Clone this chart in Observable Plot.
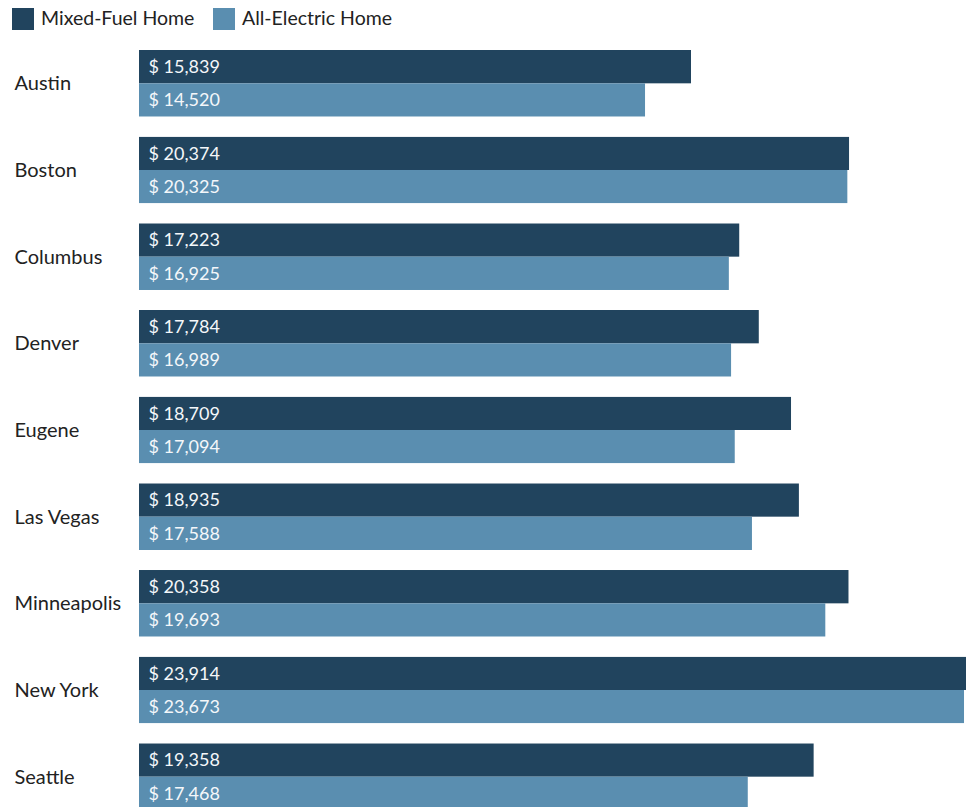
<!DOCTYPE html>
<html>
<head>
<meta charset="utf-8">
<script src="https://cdn.jsdelivr.net/npm/d3@7"></script>
<script src="https://cdn.jsdelivr.net/npm/@observablehq/plot@0.6"></script>
<style>
  html, body { margin: 0; padding: 0; background: #fff; overflow: hidden; }
  body { width: 966px; font-family: Lato, "Noto Sans", sans-serif; }
  #legend { height: 40px; position: relative; font-size: 19.5px; color: #222; }
  .sw { position: absolute; top: 8px; width: 22px; height: 22px; }
  .lt { position: absolute; top: 6px; line-height: 24px; white-space: nowrap; }
  #chart svg { display: block; overflow: hidden; }
</style>
</head>
<body>
<div id="legend"></div>
<div id="chart"></div>
<script>
const cities = ["Austin", "Boston", "Columbus", "Denver", "Eugene", "Las Vegas", "Minneapolis", "New York", "Seattle"];
const seriesNames = ["Mixed-Fuel Home", "All-Electric Home"];
const mixedFuel = [15839, 20374, 17223, 17784, 18709, 18935, 20358, 23914, 19358];
const allElectric = [14520, 20325, 16925, 16989, 17094, 17588, 19693, 23673, 17468];
const colors = ["#21445e", "#5a8eb0"];

const data = [];
cities.forEach((c, i) => {
  data.push({city: c, series: seriesNames[0], value: mixedFuel[i]});
  data.push({city: c, series: seriesNames[1], value: allElectric[i]});
});

// legend
const legend = document.getElementById("legend");
const swX = [12, 213];
const txX = [41, 242];
seriesNames.forEach((s, i) => {
  const sw = document.createElement("div");
  sw.className = "sw"; sw.style.left = swX[i] + "px"; sw.style.background = colors[i];
  const t = document.createElement("div");
  t.className = "lt"; t.style.left = txX[i] + "px"; t.textContent = s;
  legend.appendChild(sw); legend.appendChild(t);
});

const fmt = v => "$ " + d3.format(",")(v);

const chart = Plot.plot({
  width: 966,
  height: 770,
  marginTop: 10,
  marginBottom: 0,
  marginLeft: 139,
  marginRight: 0,
  style: {fontFamily: "Lato, 'Noto Sans', sans-serif", background: "white"},
  x: {domain: [0, 23730], axis: null},
  y: {domain: seriesNames, axis: null, padding: 0, round: false},
  fy: {domain: cities, axis: null, paddingInner: 0.231, paddingOuter: 0, round: false},
  color: {domain: seriesNames, range: colors},
  marks: [
    Plot.barX(data, {fy: "city", y: "series", x: "value", fill: "series", clip: true}),
    Plot.text(data, {fy: "city", y: "series", text: d => fmt(d.value), frameAnchor: "left", dx: 9, textAnchor: "start", fill: "#f4f7fa", fontSize: 18}),
    Plot.text(cities, {fy: d => d, text: d => d, frameAnchor: "left", dx: -125, textAnchor: "start", fill: "#222", fontSize: 20})
  ]
});
document.getElementById("chart").appendChild(chart);
</script>
</body>
</html>
